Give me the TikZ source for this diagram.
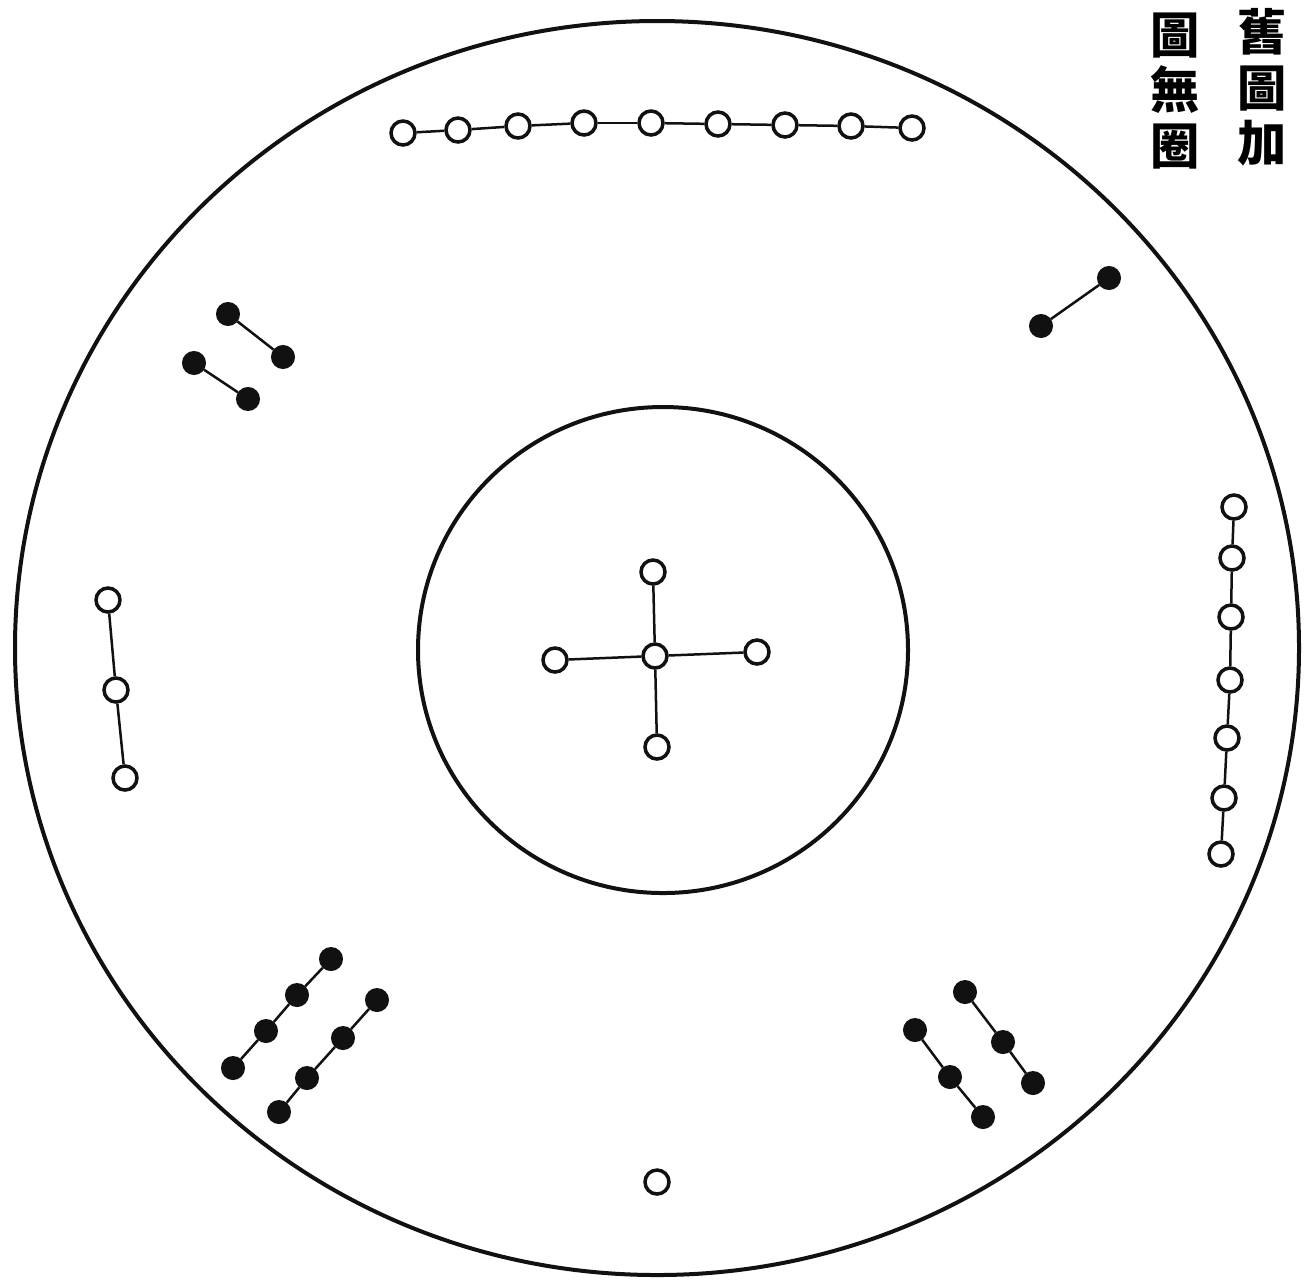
\documentclass[tikz,border=0pt]{standalone}
\usepackage{fontspec}
\usepackage{tikz}
\usetikzlibrary{positioning}
\newfontfamily\cjk{Noto Sans CJK TC}
\definecolor{chartink}{HTML}{111111}
\tikzset{
  rim/.style={draw=chartink, line width=0.4mm},
  openstar/.style={circle, draw=chartink, line width=0.35mm, fill=white, inner sep=0pt, minimum size=2.4mm},
  filledstar/.style={circle, draw=chartink, line width=0.3mm, fill=chartink, inner sep=0pt, minimum size=2.1mm},
  link/.style={draw=chartink, line width=0.25mm},
  info/.style={font=\cjk\bfseries\fontsize{14}{15.8}\selectfont, align=center, inner sep=0pt}
}

\begin{document}
\begin{tikzpicture}[x=0.1mm, y=-0.1mm]
  \useasboundingbox (0,0) rectangle (1304,1282);
  % rims
  \draw[rim] (657,648) ellipse [x radius=642, y radius=627];
  \draw[rim] (663,650) ellipse [x radius=245, y radius=243];
  % centre cross
  \node[openstar] (c0) at (655,656) {};
  \node[openstar] (cn) at (653,572) {};
  \node[openstar] (cs) at (657,747) {};
  \node[openstar] (cw) at (555,660) {};
  \node[openstar] (ce) at (757,652) {};
  \foreach \k in {cn,cs,cw,ce}
    \draw[link] (c0) -- (\k);
  % top row
  \foreach \p [count=\i] in {(403,133),(458,130),(518,126),(584,123),(651,123),(718,124),(785,125),(851,126),(912,128)}
    \node[openstar] (t\i) at \p {};
  \foreach \i [count=\j from 2] in {1,...,8}
    \draw[link] (t\i) -- (t\j);
  % right column
  \foreach \p [count=\i] in {(1234,507),(1232,558),(1231,617),(1230,680),(1227,738),(1224,798),(1221,854)}
    \node[openstar] (r\i) at \p {};
  \foreach \i [count=\j from 2] in {1,...,6}
    \draw[link] (r\i) -- (r\j);
  % left column
  \node[openstar] (w1) at (108,600) {};
  \node[openstar] (w2) at (116,690) {};
  \node[openstar] (w3) at (125,778) {};
  \draw[link] (w1) -- (w2) -- (w3);
  % single star below
  \node[openstar] (s1) at (657,1182) {};
  % dark pairs, upper part
  \node[filledstar] (a1) at (228,314) {};
  \node[filledstar] (a2) at (283,357) {};
  \node[filledstar] (b1) at (194,363) {};
  \node[filledstar] (b2) at (248,399) {};
  \node[filledstar] (e1) at (1041,326) {};
  \node[filledstar] (e2) at (1109,278) {};
  \draw[link] (a1) -- (a2);
  \draw[link] (b1) -- (b2);
  \draw[link] (e1) -- (e2);
  % dark chains, lower left
  \foreach \p [count=\i] in {(331,959),(297,995),(266,1031),(233,1068)}
    \node[filledstar] (f\i) at \p {};
  \foreach \p [count=\i] in {(377,1000),(343,1038),(307,1078),(279,1112)}
    \node[filledstar] (g\i) at \p {};
  \foreach \i [count=\j from 2] in {1,2,3}
    \draw[link] (f\i) -- (f\j) (g\i) -- (g\j);
  % dark chains, lower right
  \foreach \p [count=\i] in {(965,992),(1003,1042),(1033,1083)}
    \node[filledstar] (h\i) at \p {};
  \foreach \p [count=\i] in {(915,1030),(950,1077),(983,1117)}
    \node[filledstar] (k\i) at \p {};
  \foreach \i [count=\j from 2] in {1,2}
    \draw[link] (h\i) -- (h\j) (k\i) -- (k\j);
  % note
  \node[info, anchor=north] (noteright) at (1262,8) {舊\\圖\\加};
  \node[info, anchor=north] (noteleft) at (1175,12) {圖\\無\\圈};
\end{tikzpicture}
\end{document}
